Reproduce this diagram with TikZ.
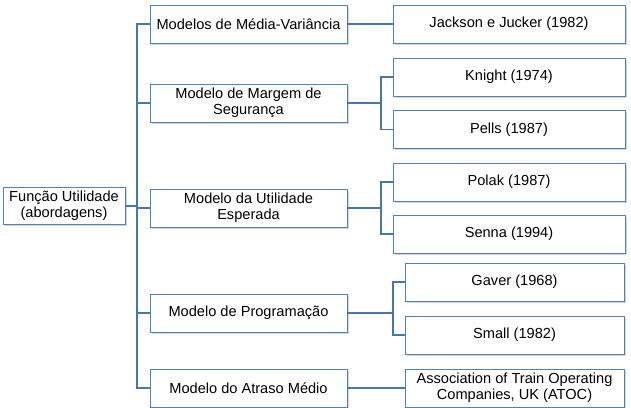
\documentclass[tikz,border=0pt]{standalone}
\usepackage{fontspec}
\setmainfont{Liberation Sans}
\usetikzlibrary{positioning,shadows}
\definecolor{boxcolor}{RGB}{79,129,189}
\definecolor{linkcolor}{RGB}{74,118,176}
\tikzset{
  box/.style={draw=boxcolor, line width=0.9pt, fill=white, align=center,
    inner sep=2pt, minimum height=38pt, font=\fontsize{14.6}{16}\selectfont,
    drop shadow={shadow xshift=1.5pt, shadow yshift=-1.5pt, opacity=0.35}},
  link/.style={draw=linkcolor, line width=1.3pt},
}

\begin{document}
\begin{tikzpicture}[x=1pt, y=-1pt]
    \useasboundingbox (0,0) rectangle (631,407);
    % root
    \node[box, minimum width=122pt, minimum height=37pt] (root) at (64,206)
      {Função Utilidade\\(abordagens)};
    % models
    \node[box, minimum width=197pt] (mv) at (248.5,24) {Modelos de Média-Variância};
    \node[box, minimum width=197pt] (ms) at (248.5,103) {Modelo de Margem de\\Segurança};
    \node[box, minimum width=197pt] (ue) at (248.5,208) {Modelo da Utilidade\\Esperada};
    \node[box, minimum width=197pt] (pg) at (248.5,313) {Modelo de Programação};
    \node[box, minimum width=197pt] (am) at (248.5,388) {Modelo do Atraso Médio};
    % authors
    \node[box, minimum width=232pt] (jj) at (509,24) {Jackson e Jucker (1982)};
    \node[box, minimum width=232pt] (kn) at (509,77) {Knight (1974)};
    \node[box, minimum width=232pt] (pe) at (509,129.5) {Pells (1987)};
    \node[box, minimum width=232pt] (po) at (509,182) {Polak (1987)};
    \node[box, minimum width=232pt] (se) at (509,234) {Senna (1994)};
    \node[box, minimum width=219pt] (ga) at (514.5,282) {Gaver (1968)};
    \node[box, minimum width=219pt] (sm) at (514.5,335) {Small (1982)};
    \node[box, minimum width=219pt] (at) at (514.5,388)
      {Association of Train Operating\\Companies, UK (ATOC)};
    % trunk
    \coordinate (trunk) at (137,206);
    \draw[link] (root.east) -- (trunk);
    \draw[link] (mv.west) -| (trunk) |- (am.west);
    \draw[link] (ms.west) -- (ms.west -| trunk);
    \draw[link] (ue.west) -- (ue.west -| trunk);
    \draw[link] (pg.west) -- (pg.west -| trunk);
    % branches
    \coordinate (bms) at (381,103);
    \coordinate (bue) at (381,208);
    \coordinate (bpg) at (393,313);
    \draw[link] (mv.east) -- (jj.west);
    \draw[link] (ms.east) -- (bms);
    \draw[link] (kn.west) -| (bms) |- (pe.west);
    \draw[link] (ue.east) -- (bue);
    \draw[link] (po.west) -| (bue) |- (se.west);
    \draw[link] (pg.east) -- (bpg);
    \draw[link] (ga.west) -| (bpg) |- (sm.west);
    \draw[link] (am.east) -- (at.west);
  \end{tikzpicture}
\end{document}
